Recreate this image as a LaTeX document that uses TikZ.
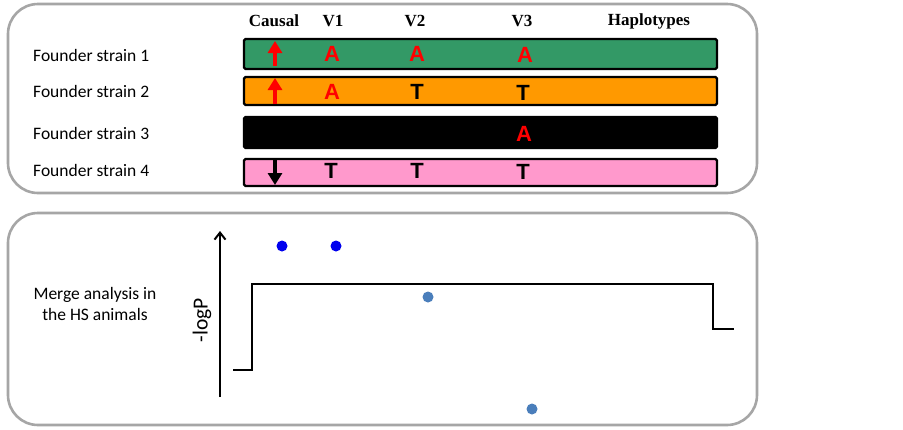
\documentclass[tikz,border=0pt]{standalone}
\usepackage{fontspec}
\setmainfont{Liberation Serif}
\newfontfamily\labfont{Carlito}
\newfontfamily\letfont{Liberation Sans}
\usetikzlibrary{arrows.meta}
\definecolor{panelgray}{HTML}{A6A6A6}
\definecolor{bargreen}{HTML}{339966}
\definecolor{barorange}{HTML}{FF9900}
\definecolor{barpink}{HTML}{FF99CC}
\definecolor{dotblue}{HTML}{0000EE}
\definecolor{dotsteel}{HTML}{4A7EBB}
\definecolor{letred}{HTML}{FF0000}
\tikzset{
  panel/.style={draw=panelgray, line width=2.6pt, rounded corners=30pt},
  bar/.style={draw=black, line width=2.4pt, minimum width=473pt, inner sep=0pt, rounded corners=1.5pt},
  head/.style={font=\fontsize{17}{20}\selectfont\bfseries, inner sep=0pt},
  lab/.style={font=\labfont\fontsize{17.5}{21}\selectfont, inner sep=0pt, anchor=west},
  let/.style={font=\letfont\fontsize{22}{25}\selectfont\bfseries, inner sep=0pt},
  causal/.style={line width=4pt, -{Triangle[width=14pt,length=12pt]}},
  dot/.style={circle, minimum size=11pt, inner sep=0pt},
  stepline/.style={line width=2.7pt},
}
\begin{document}
\begin{tikzpicture}[x=1pt,y=-1pt]
\useasboundingbox (0,0) rectangle (903,429);
\fill[white] (0,0) rectangle (903,429);
% panels
\draw[panel] (8,4) rectangle (757,193);
\draw[panel] (8,213) rectangle (757,425);
% headers
\node[head] (hc) at (274,21) {Causal};
\node[head] (h1) at (333,21) {V1};
\node[head] (h2) at (415,21) {V2};
\node[head] (h3) at (522,21) {V3};
\node[head] (hh) at (649,21) {Haplotypes};
% labels
\node[lab] (l1) at (33,55) {Founder strain 1};
\node[lab] (l2) at (33,91) {Founder strain 2};
\node[lab] (l3) at (33,133) {Founder strain 3};
\node[lab] (l4) at (33,170) {Founder strain 4};
% bars
\node[bar, fill=bargreen, minimum height=30pt] (b1) at (480.5,54) {};
\node[bar, fill=barorange, minimum height=28pt] (b2) at (480.5,91) {};
\node[bar, fill=black, minimum height=31pt] (b3) at (480.5,132.5) {};
\node[bar, fill=barpink, minimum height=27pt] (b4) at (480.5,172.5) {};
% letters
\node[let, text=letred] (a11) at (332,54) {A};
\node[let, text=letred] (a12) at (417,54) {A};
\node[let, text=letred] (a13) at (525,55) {A};
\node[let, text=letred] (a21) at (332,92) {A};
\node[let] (a22) at (417,92) {T};
\node[let] (a23) at (523,93) {T};
\node[let, text=letred] (a33) at (524,134) {A};
\node[let] (a41) at (331,171) {T};
\node[let] (a42) at (417,171) {T};
\node[let] (a43) at (523,172) {T};
% causal arrows
\coordinate (c1s) at (275,66);
\coordinate (c1e) at (275,41);
\coordinate (c2s) at (275,104);
\coordinate (c2e) at (275,78);
\coordinate (c4s) at (275,160);
\coordinate (c4e) at (275,185);
\draw[causal, letred] (c1s) -- (c1e);
\draw[causal, letred] (c2s) -- (c2e);
\draw[causal, black] (c4s) -- (c4e);
% bottom panel
\node[font=\labfont\fontsize{17.5}{21}\selectfont, align=center, inner sep=0pt] (merge) at (95,303.5) {Merge analysis in\\the HS animals};
\coordinate (ax0) at (220,397);
\coordinate (ax1) at (220,231);
\draw[line width=2.2pt, -{Straight Barb[length=7pt,width=11pt,line width=2pt]}] (ax0) -- (ax1);
\node[font=\labfont\fontsize{21.5}{25}\selectfont, rotate=90, inner sep=0pt] (logp) at (202,320) {-logP};
\coordinate (s0) at (233,370);
\coordinate (s1) at (252,370);
\coordinate (s2) at (252,284);
\coordinate (s3) at (713,284);
\coordinate (s4) at (713,329);
\coordinate (s5) at (734,329);
\draw[stepline] (s0) -- (s1) -- (s2) -- (s3) -- (s4) -- (s5);
\node[dot, fill=dotblue] (d1) at (282,246) {};
\node[dot, fill=dotblue] (d2) at (336,246) {};
\node[dot, fill=dotsteel] (d3) at (428,297) {};
\node[dot, fill=dotsteel] (d4) at (532,409) {};
\end{tikzpicture}
\end{document}
